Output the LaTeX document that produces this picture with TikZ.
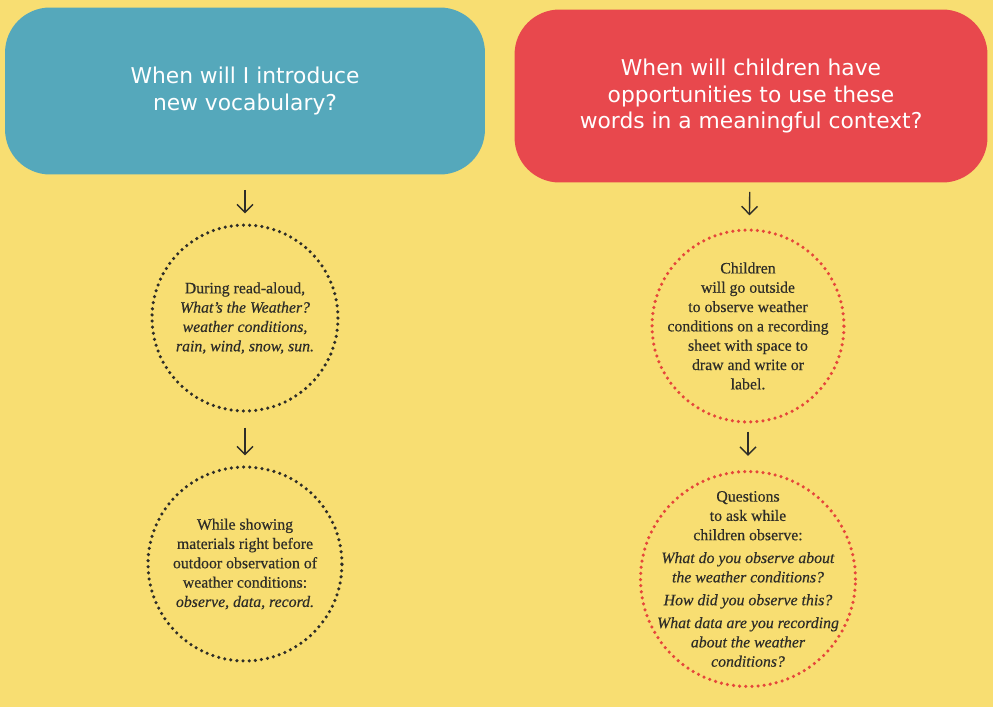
\documentclass[tikz,border=0pt]{standalone}
\usepackage{fontspec}
\setmainfont{Liberation Serif}[UprightFeatures={FakeBold=0.4}, ItalicFeatures={FakeBold=0.4}]
\setsansfont{DejaVu Sans}
\usetikzlibrary{arrows.meta, positioning}
\definecolor{cyellow}{HTML}{F8DE72}
\definecolor{cblue}{HTML}{55A8BB}
\definecolor{cred}{HTML}{E8484D}
\definecolor{cdark}{HTML}{2E2D28}
\definecolor{cdot}{HTML}{E5463A}
\tikzset{
  blob/.style={fill=#1, rounded corners=0.9cm, inner sep=0pt, align=center, text=white,
               font=\sffamily\fontsize{12.4}{15.2}\selectfont},
  ring/.style={circle, draw=#1, line width=2pt, dash pattern=on 0pt off 3.5pt, line cap=round, inner sep=0pt},
  words/.style={align=center, text=cdark, inner sep=0pt, font=\fontsize{9}{11}\selectfont},
  arrow/.style={-{Straight Barb[length=1.6mm, width=3.2mm]}, draw=cdark, line width=0.8pt,
                shorten <=0.3cm, shorten >=0.2cm},
}

\begin{document}
\begin{tikzpicture}[x=0.02cm, y=-0.02cm]
  \fill[cyellow] (0,0) rectangle (993,707);
  \useasboundingbox (0,0) rectangle (993,707);
  % vocabulary
  \node[blob=cblue, minimum width=9.6cm, minimum height=3.34cm] (intro) at (245,91)
    {When will I introduce\\new vocabulary?};
  \node[ring=cdark, minimum size=3.72cm] (read) at (245,318) {};
  \node[words] at (read) {During read-aloud,\\ \textit{What’s the Weather?}\\ \textit{weather conditions,}\\ \textit{rain, wind, snow, sun.}};
  \node[ring=cdark, minimum size=3.88cm] (show) at (245,564) {};
  \node[words] at (show) {While showing\\materials right before\\outdoor observation of\\weather conditions:\\ \textit{observe, data, record.}};
  \draw[arrow] (intro) -- (read);
  \draw[arrow] (read) -- (show);
  % context
  \node[blob=cred, minimum width=9.46cm, minimum height=3.46cm] (use) at (751,96)
    {When will children have\\opportunities to use these\\words in a meaningful context?};
  \node[ring=cdot, minimum size=3.84cm] (outside) at (748,326) {};
  \node[words] at (outside) {Children\\will go outside\\to observe weather\\conditions on a recording\\sheet with space to\\draw and write or\\label.};
  \node[ring=cdot, minimum size=4.3cm] (ask) at (748,579) {};
  \node[words] at (ask) {Questions\\to ask while\\children observe:\\[2pt]
    \textit{What do you observe about}\\ \textit{the weather conditions?}\\[2pt]
    \textit{How did you observe this?}\\[2pt]
    \textit{What data are you recording}\\ \textit{about the weather}\\ \textit{conditions?}};
  \draw[arrow, shorten <=0.18cm, shorten >=0.26cm] (use) -- (outside);
  \draw[arrow, shorten <=0.16cm, shorten >=0.28cm] (outside) -- (ask);
\end{tikzpicture}
\end{document}
